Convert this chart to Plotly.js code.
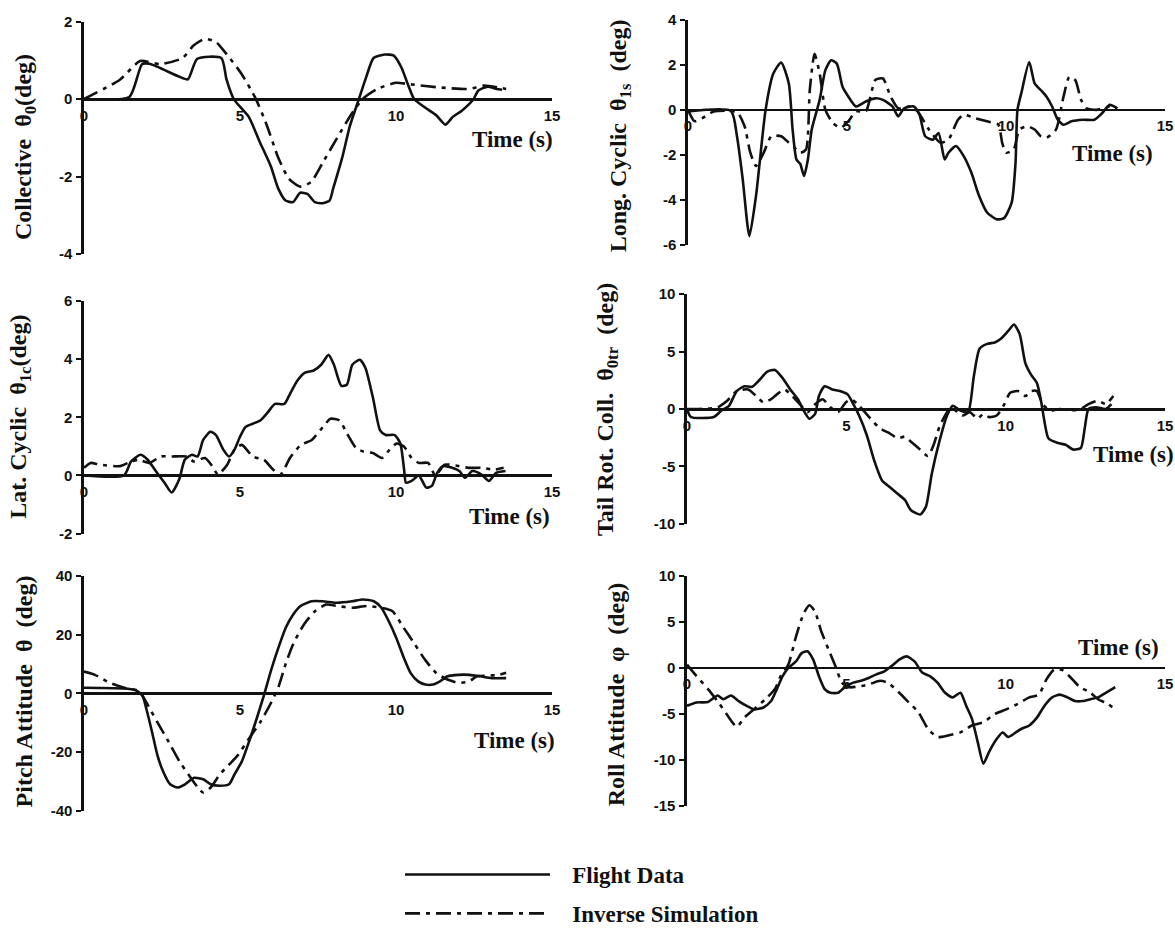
<!DOCTYPE html>
<html><head><meta charset="utf-8">
<script src="https://cdn.plot.ly/plotly-3.0.1.min.js"></script>
<style>html,body{margin:0;padding:0;background:#fff}#chart{width:1175px;height:935px}</style>
</head><body><div id="chart"></div>
<script>
// ---------- DATA (time in s, values in deg) ----------
const collectiveFlightT = [0,1.45,1.86,2.1,3.04,3.33,3.63,4.4,4.57,4.8,5.28,5.63,5.99,6.22,6.46,6.7,6.93,7.16,7.4,7.64,7.87,7.99,8.28,8.52,8.81,9.05,9.28,9.64,9.93,10.17,10.4,10.58,10.93,11.29,11.58,11.82,12.11,12.47,12.64,12.94,13.23,13.4];
const collectiveFlightV = [0,0.05,0.9,0.91,0.58,0.51,1.04,1.06,0.5,0,-0.46,-1.1,-1.74,-2.3,-2.62,-2.66,-2.42,-2.45,-2.66,-2.69,-2.62,-2.3,-1.5,-0.7,0,0.58,1.06,1.15,1.12,0.82,0.34,0,-0.22,-0.42,-0.66,-0.46,-0.3,-0.02,0.22,0.32,0.26,0.24];
const collectiveSimT = [0,1.15,1.8,2.45,3.16,3.51,3.86,4.22,4.51,5.04,5.51,5.87,6.22,6.57,6.93,7.28,7.64,8.1,8.58,8.93,9.4,9.99,10.46,11.4,12.35,12.82,13.53];
const collectiveSimV = [0,0.5,0.98,0.9,1.06,1.38,1.55,1.48,1.22,0.66,0,-0.7,-1.5,-2.06,-2.26,-2.14,-1.66,-1.02,-0.38,0,0.26,0.42,0.38,0.3,0.26,0.35,0.26];

const longCyclicFlightT = [0,1.35,1.54,1.72,1.93,2.14,2.44,2.68,2.93,3.17,3.29,3.41,3.53,3.65,3.77,3.89,4.14,4.32,4.5,4.68,4.86,5.04,5.28,5.59,5.89,6.13,6.43,6.61,6.8,7.1,7.28,7.46,7.7,7.88,8.07,8.19,8.43,8.67,8.91,9.15,9.4,9.7,9.94,10.18,10.3,10.36,10.48,10.73,10.9,11.09,11.27,11.45,11.63,11.81,12.06,12.42,12.78,13.02,13.26,13.5];
const longCyclicFlightV = [-0.07,-0.05,-1.17,-3.07,-5.6,-3.8,0,1.6,2.1,1.17,-0.88,-2.2,-2.4,-2.93,-2.2,-0.88,0.44,1.76,2.2,2.05,1.02,0.59,0.15,0.37,0.51,0.44,0.15,-0.29,0.07,0.15,-0.22,-1.17,-1.32,-1.03,-2.2,-1.9,-1.6,-2.05,-2.78,-3.8,-4.54,-4.85,-4.8,-4.1,-2.34,0,0.73,2.12,1.17,0.88,0.59,0.15,-0.44,-0.66,-0.51,-0.44,-0.44,-0.15,0.22,0.07];
const longCyclicSimT = [0,0.2,0.45,0.81,1.54,1.78,1.96,2.14,2.38,2.62,2.93,3.17,3.35,3.53,3.71,3.83,3.98,4.14,4.32,4.56,4.8,5.04,5.28,5.59,5.89,6.13,6.37,6.61,6.98,7.22,7.58,7.94,8.19,8.49,8.67,9.03,9.4,9.76,9.88,10.0,10.24,10.42,10.67,10.91,11.09,11.27,11.57,11.81,11.99,12.18,12.36,12.54,12.84,13.26,13.5];
const longCyclicSimV = [0,-0.5,-0.37,-0.07,-0.1,-0.73,-1.9,-2.49,-1.9,-1.17,-1.17,-1.46,-1.68,-1.9,-1.76,0.88,2.49,1.61,0,-0.59,-0.8,-0.51,-0.07,-0.07,1.32,1.39,0.59,0.07,0.15,-0.07,-0.88,-1.46,-1.32,-0.44,-0.22,-0.37,-0.51,-0.66,-1.46,-1.9,-1.76,-0.88,-0.73,-0.88,-1.17,-1.24,-0.88,0.59,1.46,1.32,0.44,0.07,0,0.15,0.07];

const latCyclicFlightT = [0,1.28,1.51,1.81,2.04,2.34,2.58,2.81,3.05,3.23,3.46,3.64,3.82,4.05,4.23,4.47,4.65,4.82,5.0,5.18,5.41,5.65,5.89,6.12,6.42,6.6,6.83,7.07,7.36,7.6,7.84,8.01,8.25,8.43,8.6,8.84,9.02,9.26,9.49,9.67,9.96,10.14,10.26,10.32,10.5,10.73,10.97,11.15,11.32,11.5,11.8,12.03,12.21,12.45,12.74,12.98,13.21,13.51];
const latCyclicFlightV = [0,0,0.48,0.71,0.54,0.09,-0.25,-0.59,-0.14,0.54,0.71,0.65,1.22,1.5,1.39,0.88,0.65,0.88,1.33,1.67,1.78,1.89,2.17,2.46,2.46,2.8,3.25,3.53,3.61,3.81,4.15,3.81,3.08,3.13,3.81,3.98,3.7,2.68,1.55,1.39,1.39,1.1,0.2,-0.25,-0.19,0,-0.42,-0.36,0.09,0.32,0.26,0.15,-0.08,0.15,0.03,-0.19,0.09,0.15];
const latCyclicSimT = [0,0.21,0.51,1.16,1.51,1.75,2.1,2.46,2.81,3.29,3.52,3.88,4.11,4.29,4.59,4.82,5.06,5.41,5.77,6.06,6.3,6.6,6.95,7.3,7.66,7.9,8.19,8.43,8.72,8.96,9.26,9.55,9.79,10.02,10.26,10.5,10.73,11.03,11.26,11.56,11.91,12.33,12.74,13.16,13.45];
const latCyclicSimV = [0.26,0.43,0.37,0.32,0.48,0.54,0.43,0.65,0.65,0.65,0.48,0.6,0.32,0.03,0.37,0.88,1.05,0.65,0.54,0.2,0.03,0.6,1.05,1.22,1.67,1.95,1.89,1.44,0.94,0.82,0.77,0.6,0.88,1.1,0.99,0.6,0.43,0.43,0,0.37,0.34,0.26,0.26,0.2,0.26];

const tailRotorFlightT = [0,0.12,0.84,1.08,1.32,1.56,1.8,2.04,2.28,2.52,2.76,3.0,3.24,3.48,3.66,3.84,4.02,4.14,4.32,4.56,4.8,5.04,5.22,5.4,5.64,5.88,6.12,6.36,6.6,6.84,7.02,7.32,7.5,7.68,7.92,8.16,8.34,8.58,8.82,9.0,9.18,9.42,9.66,9.84,10.08,10.26,10.44,10.62,10.8,10.98,11.1,11.22,11.34,11.64,11.88,12.12,12.36,12.48,12.6,12.84,13.14,13.32];
const tailRotorFlightV = [0,-0.7,-0.7,-0.14,0.28,1.56,1.98,1.93,2.55,3.26,3.4,2.69,1.7,0.85,-0.14,-0.85,-0.42,1.13,1.98,1.7,1.56,1.27,0.42,-0.57,-2.27,-4.53,-6.23,-6.8,-7.37,-7.93,-8.8,-9.2,-8.5,-5.67,-2.83,-0.57,0.28,-0.14,-0.28,2.83,5.24,5.67,5.8,6.09,6.8,7.36,6.52,3.97,2.97,2.27,0.85,-1.13,-2.55,-2.97,-3.12,-3.54,-3.4,-1.7,0,0.14,0,0.42];
const tailRotorSimT = [0,0.36,0.96,1.26,1.56,1.92,2.22,2.4,2.64,2.82,3.06,3.3,3.54,3.78,4.02,4.26,4.5,4.74,4.98,5.16,5.4,5.76,6.06,6.36,6.6,6.84,7.02,7.26,7.56,7.74,7.92,8.1,8.28,8.64,8.88,9.12,9.3,9.48,9.72,9.96,10.14,10.38,10.62,10.8,10.98,11.16,11.4,11.7,12.06,12.36,12.6,12.9,13.14,13.38];
const tailRotorSimV = [0,0,0.14,0.71,1.56,1.7,0.99,0.57,0.85,1.27,1.7,1.13,0.42,-0.28,0.42,0.85,0.14,-0.28,0.57,0.85,0.28,-0.85,-1.7,-2.12,-2.55,-2.41,-2.83,-3.4,-4.1,-3.12,-1.56,-0.57,0.14,-0.57,-0.28,-0.85,-0.42,-0.71,-0.57,0.42,1.42,1.56,1.13,1.56,1.56,0.42,-0.14,0,-0.14,0,0.42,0.71,0.42,1.13];

const pitchFlightT = [0,1.41,1.71,1.88,2.0,2.18,2.35,2.53,2.76,3.0,3.24,3.53,3.82,4.06,4.35,4.65,4.82,5.06,5.29,5.53,5.76,6.0,6.24,6.47,6.71,6.94,7.29,7.65,8.12,8.59,8.94,9.29,9.53,9.76,10.0,10.24,10.47,10.71,10.94,11.18,11.41,11.65,12.0,12.35,12.71,13.06,13.53];
const pitchFlightV = [1.9,1.55,0.8,-0.9,-5.3,-13.1,-20.9,-26.4,-30.9,-32,-30.9,-28.7,-29.2,-30.9,-31.4,-30.9,-27.6,-23.1,-16.4,-8.7,-0.9,8,15.8,22.4,26.9,29.7,31.3,31.3,30.8,31.3,31.9,31.3,29.1,24.7,19.1,12.4,6.9,4.1,3.0,3.0,4.1,5.8,6.3,6.3,5.8,5.2,5.2];
const pitchSimT = [0,0.35,0.82,1.29,1.76,2.0,2.35,2.71,3.06,3.35,3.65,3.82,4.06,4.35,4.65,4.94,5.29,5.65,6.0,6.24,6.47,6.71,7.06,7.41,7.76,8.12,8.59,9.06,9.53,9.88,10.24,10.59,10.94,11.29,11.65,12.0,12.35,12.59,12.94,13.29,13.53];
const pitchSimV = [7.4,6.3,3.6,1.9,0.8,-3.1,-9.8,-16.4,-23.1,-27.6,-32,-33.7,-32,-27.6,-24.2,-20.9,-15.3,-9.8,-3.1,2.4,10.2,16.9,23.6,28,30.2,29.7,29.1,29.7,29.1,28,22.4,16.9,11.3,6.9,4.7,3.6,4.1,5.8,6,6.3,7];

const rollFlightT = [0,0.3,0.66,0.96,1.14,1.38,1.62,1.86,2.1,2.4,2.64,2.82,3.0,3.18,3.42,3.6,3.78,3.96,4.14,4.32,4.5,4.74,4.98,5.22,5.46,5.7,5.94,6.18,6.42,6.66,6.9,7.14,7.38,7.62,7.86,8.1,8.34,8.58,8.76,8.94,9.12,9.3,9.48,9.66,9.9,10.08,10.32,10.5,10.74,10.98,11.22,11.46,11.7,11.94,12.18,12.42,12.66,12.9,13.14,13.44];
const rollFlightV = [-4.1,-3.75,-3.7,-3.0,-3.4,-3.0,-3.6,-4.1,-4.5,-4.3,-3.6,-2.3,-0.9,0,0.7,1.6,1.8,0.9,-0.9,-2.3,-2.7,-2.7,-2.0,-1.6,-1.4,-1.1,-0.7,-0.4,0.2,0.9,1.25,0.7,-0.5,-0.9,-1.6,-2.7,-3.2,-2.7,-4.1,-5.5,-8.0,-10.4,-9.1,-8.0,-7.0,-7.5,-7.0,-6.6,-6.25,-5.4,-4.1,-3.2,-2.9,-3.2,-3.6,-3.6,-3.4,-3.2,-2.7,-2.1];
const rollSimT = [0,0.3,0.66,1.02,1.32,1.56,1.8,2.1,2.46,2.76,2.94,3.18,3.42,3.66,3.84,4.02,4.2,4.44,4.68,4.86,5.1,5.4,5.7,6.06,6.3,6.66,6.96,7.26,7.56,7.86,8.22,8.58,8.94,9.3,9.66,10.02,10.38,10.74,11.04,11.28,11.52,11.76,12.0,12.3,12.66,12.9,13.2,13.44];
const rollSimV = [0.35,-0.9,-2.3,-3.9,-5.4,-6.4,-5.4,-4.5,-3.4,-2.3,-0.9,0.35,3.4,5.9,6.8,6.1,4.1,2.0,0,-1.6,-2.1,-2.0,-1.8,-1.4,-1.6,-2.7,-3.75,-4.8,-6.6,-7.5,-7.3,-7.0,-6.25,-5.9,-5.0,-4.5,-3.9,-3.2,-2.9,-1.25,-0.2,-0.2,-0.9,-2.0,-2.7,-3.4,-3.9,-4.5];

const xTickVals = [0, 5, 10, 15];
const seriesNames = ['Flight Data', 'Inverse Simulation'];
const yTitles = [
  'Collective  θ<sub>0</sub>(deg)',
  'Long. Cyclic  θ<sub>1s</sub>  (deg)',
  'Lat. Cyclic  θ<sub>1c</sub>(deg)',
  'Tail Rot. Coll.  θ<sub>0tr</sub>  (deg)',
  'Pitch Attitude  θ  (deg)',
  'Roll Attitude  φ  (deg)'
];
const yRanges = [[-4,2],[-6,4],[-2,6],[-10,10],[-40,40],[-15,10]];
const yTickVals = [[2,0,-2,-4],[4,2,0,-2,-4,-6],[6,4,2,0,-2],[10,5,0,-5,-10],[40,20,0,-20,-40],[10,5,0,-5,-10,-15]];
const flightT = [collectiveFlightT,longCyclicFlightT,latCyclicFlightT,tailRotorFlightT,pitchFlightT,rollFlightT];
const flightV = [collectiveFlightV,longCyclicFlightV,latCyclicFlightV,tailRotorFlightV,pitchFlightV,rollFlightV];
const simT = [collectiveSimT,longCyclicSimT,latCyclicSimT,tailRotorSimT,pitchSimT,rollSimT];
const simV = [collectiveSimV,longCyclicSimV,latCyclicSimV,tailRotorSimV,pitchSimV,rollSimV];

// ---------- LAYOUT (pixel geometry) ----------
const W = 1175, H = 935;
const SERIF = 'Liberation Serif, Times New Roman, serif';
const SANS = 'Liberation Sans, Arial, sans-serif';
const geom = [
  {x:[84,552],  y:[22,259],  tt:[25,150],  ts:[512,142]},
  {x:[688,1165],y:[20,250],  tt:[620,139], ts:[1112,157]},
  {x:[84,552],  y:[307,544], tt:[20,425],  ts:[509,527]},
  {x:[687,1165],y:[300,534], tt:[607,417], ts:[1133,463]},
  {x:[84,552],  y:[587,827], tt:[24,705],  ts:[514,755]},
  {x:[687,1165],y:[587,822], tt:[616,708], ts:[1118,660]}
];
const NB = '\u00a0\u00a0\u00a0';
const boldLabels = vals => vals.map(v => '<b>' + String(v) + '</b>');

const traces = [];
const layout = {
  width: W, height: H,
  margin: {l:0, r:0, t:0, b:0},
  paper_bgcolor: '#fff', plot_bgcolor: 'rgba(0,0,0,0)',
  showlegend: true,
  legend: {x: 400/W, y: 1 - 870/H, xanchor: 'left', yanchor: 'top',
           font: {family: SERIF, size: 23, weight: 'bold', color: '#111'},
           itemwidth: 145, traceorder: 'grouped', tracegroupgap: 6,
           bgcolor: 'rgba(0,0,0,0)'},
  annotations: [],
  hovermode: false
};
const lineSolid = {color: '#111', width: 2.6, shape: 'spline', smoothing: 0.6};
const lineDash = {color: '#111', width: 2.6, shape: 'spline', smoothing: 0.6, dash: '15px,6px,4px,6px'};
const tickFont = {family: SANS, size: 15, color: '#111'};

for (let i = 0; i < 6; i++) {
  const s = i === 0 ? '' : String(i + 1);
  const g = geom[i];
  const yr = yRanges[i];
  const yd = [1 - g.y[1]/H, 1 - g.y[0]/H];
  const zeroPos = yd[0] + (0 - yr[0]) / (yr[1] - yr[0]) * (yd[1] - yd[0]);
  layout['xaxis' + s] = {
    domain: [g.x[0]/W, g.x[1]/W], range: [0, 15], anchor: 'free', position: zeroPos,
    showline: true, linewidth: 2.6, linecolor: '#111', showgrid: false, zeroline: false,
    tickmode: 'array', tickvals: xTickVals, ticktext: boldLabels(xTickVals), ticks: '', ticklabelstandoff: 2,
    tickfont: tickFont, fixedrange: true
  };
  layout['yaxis' + s] = {
    domain: yd, range: yr, anchor: 'x' + s,
    showline: true, linewidth: 2.6, linecolor: '#111', showgrid: false, zeroline: false,
    tickmode: 'array', tickvals: yTickVals[i], ticktext: boldLabels(yTickVals[i]),
    ticks: 'outside', ticklen: 5, tickwidth: 2, tickcolor: '#111', ticklabelstandoff: 1,
    tickfont: tickFont, fixedrange: true
  };
  traces.push({type: 'scatter', mode: 'lines', x: flightT[i], y: flightV[i], xaxis: 'x' + s, yaxis: 'y' + s,
               name: NB + seriesNames[0], legendgroup: 'fd', showlegend: i === 0, line: lineSolid});
  traces.push({type: 'scatter', mode: 'lines', x: simT[i], y: simV[i], xaxis: 'x' + s, yaxis: 'y' + s,
               name: NB + seriesNames[1], legendgroup: 'is', showlegend: i === 0, line: lineDash});
  layout.annotations.push({xref: 'paper', yref: 'paper', x: g.tt[0]/W, y: 1 - g.tt[1]/H,
    text: '<b>' + yTitles[i] + '</b>', textangle: -90, showarrow: false, xanchor: 'center', yanchor: 'middle',
    font: {family: SERIF, size: 24, color: '#111'}});
  layout.annotations.push({xref: 'paper', yref: 'paper', x: g.ts[0]/W, y: 1 - g.ts[1]/H,
    text: '<b>Time (s)</b>', showarrow: false, xanchor: 'center', yanchor: 'middle',
    font: {family: SERIF, size: 23, color: '#111'}});
}

Plotly.newPlot('chart', traces, layout, {staticPlot: true, displayModeBar: false});
</script>
</body></html>
